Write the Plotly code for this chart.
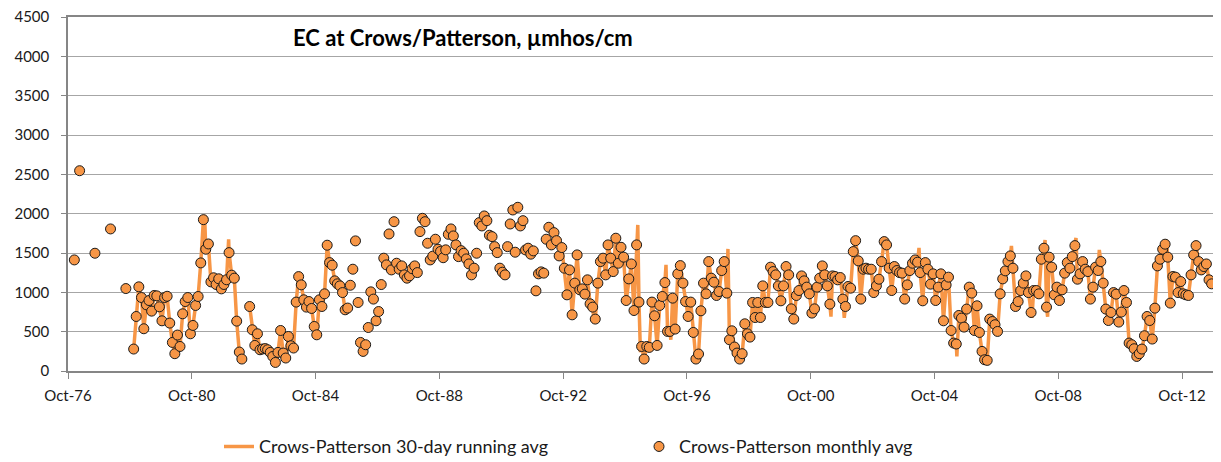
import pandas as pd
import plotly.graph_objects as go

# | data section |
# sparse grab samples before the monthly record starts
early_dates = ["1976-12-15", "1977-02-15", "1977-08-15", "1978-02-15", "1978-08-15"]
early_ec = [1412, 2546, 1497, 1806, 1048]

# monthly average EC, one value per month starting Nov 1978 (None = no data)
monthly_start = "1978-11-01"
monthly_ec = [
    279, 693,                                                           # 1978 Nov-Dec
    1070, 934, 537, 841, 896, 761, 960, 955, 816, 638, 934, 950,        # 1979
    609, 363, 220, 457, 312, 727, 883, 934, 473, 579, 833, 947,         # 1980
    1374, 1924, 1548, 1615, 1133, 1185, 1100, 1172, 1044, 1100, 1160, 1505,  # 1981
    1218, 1180, 634, 241, 152, None, None, 820, 524, 325, 473, 270,     # 1982
    280, 285, 270, 236, 185, 109, 236, 515, 228, 165, 439, 321,         # 1983
    292, 876, 1200, 1095, 905, 812, 883, 795, 566, 460, 905, 820,       # 1984
    981, 1599, 1378, 1345, 1146, 1108, 1082, 997, 778, 800, 1090, 1294,  # 1985
    1654, 871, 363, 249, 334, 553, 1006, 914, 638, 756, 1099, 1434,     # 1986
    1349, 1742, 1285, 1898, 1370, 1294, 1336, 1222, 1180, 1210, 1300, 1336,  # 1987
    1251, 1772, 1941, 1898, 1624, 1412, 1460, 1675, 1548, 1520, 1440, 1540,  # 1988
    1738, 1806, 1717, 1603, 1454, 1530, 1497, 1425, 1361, 1222, 1307, 1497,  # 1989
    1886, 1844, 1971, 1911, 1726, 1708, 1581, 1505, 1307, 1256, 1222, 1581,  # 1990
    1869, 2047, 1510, 2081, 1844, 1911, 1539, 1561, 1485, 1527, 1019, 1235,  # 1991
    1260, 1244, 1675, 1827, 1603, 1759, 1657, 1463, 1569, 1307, 968, 1285,   # 1992
    714, 1117, 1476, 1032, 1044, 977, 1159, 854, 812, 660, 1117, 1391,   # 1993
    1434, 1222, 1603, 1434, 1264, 1688, 1370, 1573, 1447, 896, 1171, 1361,  # 1994
    769, 1603, 876, 312, 152, 312, 300, 876, 702, 325, 833, 947,        # 1995
    1124, 503, 503, 926, 533, 1235, 1340, 1117, 883, 693, 876, 490,     # 1996
    152, 216, 765, 1117, 981, 1391, 1180, 1129, 960, 1010, 1277, 1391,  # 1997
    990, 397, 511, 305, 228, 152, 220, 600, 473, 431, 871, 680,         # 1998
    871, 680, 1082, 871, 871, 1320, 1264, 1222, 1082, 892, 1082, 1328,  # 1999
    1222, 790, 660, 960, 1023, 1209, 1146, 1066, 981, 736, 790, 1066,   # 2000
    1180, 1336, 1222, 1082, 850, 1209, 1201, 1159, 1188, 914, 820, 1074,  # 2001
    1053, 1518, 1657, 1400, 914, 1294, 1307, 1294, 1294, 997, 1082, 1167,  # 2002
    1391, 1645, 1603, 1307, 1023, 1328, 1277, 1251, 1244, 914, 1095, 1277,  # 2003
    1370, 1412, 1383, 1251, 892, 1378, 1294, 1104, 1235, 896, 1066, 1235,  # 2004
    638, 1095, 1193, 515, 355, 343, 706, 672, 558, 787, 1066, 990,      # 2005
    515, 829, 490, 249, 143, 135, 660, 629, 588, 503, 981, 1171,        # 2006
    1273, 1391, 1463, 1307, 820, 883, 1023, 1117, 1209, 997, 744, 1023,  # 2007
    1023, 981, 1421, 1561, 812, 1447, 1320, 968, 1066, 896, 1032, 1244,  # 2008
    1378, 1307, 1454, 1594, 1167, 1235, 1391, 1294, 1264, 914, 1066, 1320,  # 2009
    1277, 1391, 1117, 787, 642, 744, 997, 977, 622, 749, 1023, 871,     # 2010
    355, 334, 283, 185, 220, 279, 448, 693, 642, 406, 799, 1336,        # 2011
    1421, 1548, 1612, 1447, 863, 1201, 1193, 997, 1137, 981, 968, 960,  # 2012
    1222, 1476, 1594, 1391, 1285, 1328, 1361, 1159, 1108,               # 2013 Jan-Sep
]

# periods with no 30-day running average
run_avg_gaps = [("1985-10-01", "1992-08-31")]

# running-average peaks / dips that stand out from the monthly values
spike_dates = ["1981-03-01", "1981-12-10", "1993-10-01", "1995-03-01", "1995-04-01",
               "1996-01-28", "1996-03-25", "1998-01-28", "2001-05-28", "2001-11-01",
               "2004-04-01", "2005-06-22", "2007-03-28", "2007-11-25", "2008-04-28",
               "2008-05-28", "2009-04-28", "2010-01-28", "2012-04-01"]
spike_ec = [1985, 1675, 610, 1857, 240,
            1350, 397, 1552, 690, 676,
            1565, 185, 1590, 676, 1666,
            690, 1691, 1539, 1666]

orange = "#F79646"

# | variable section |
monthly_dates = pd.date_range(monthly_start, periods=len(monthly_ec), freq="MS") + pd.Timedelta(days=14)
monthly = pd.DataFrame({"date": monthly_dates, "ec": pd.Series(monthly_ec, dtype="float")})

line = monthly.copy()
for start, end in run_avg_gaps:
    in_gap = (line["date"] >= pd.Timestamp(start)) & (line["date"] <= pd.Timestamp(end))
    line.loc[in_gap, "ec"] = float("nan")
spikes = pd.DataFrame({"date": pd.to_datetime(spike_dates), "ec": pd.Series(spike_ec, dtype="float")})
line = pd.concat([line, spikes]).sort_values("date")

points_x = list(pd.to_datetime(early_dates)) + list(monthly["date"])
points_y = early_ec + list(monthly["ec"])

# | graph section |
fig = go.Figure()

fig.add_trace(
    go.Scatter(
        x=line["date"],
        y=line["ec"],
        name="Crows-Patterson 30-day running avg",
        mode="lines",
        line={"color": orange, "width": 3.5},
        connectgaps=False,
    )
)
fig.add_trace(
    go.Scatter(
        x=points_x,
        y=points_y,
        name="Crows-Patterson monthly avg",
        mode="markers",
        marker={"color": orange, "size": 10, "line": {"color": "#1a1a1a", "width": 1}},
    )
)

fig.add_annotation(
    text="<b>EC at Crows/Patterson, µmhos/cm</b>",
    xref="paper", yref="paper", x=(291 - 68) / 1145, y=0.941,
    xanchor="left", yanchor="middle", showarrow=False,
    font={"size": 22, "color": "#000000"},
)

# page body adds an 8px offset, so the figure is 8px smaller and margins shifted
fig.update_layout(
    width=1213,
    height=454,
    margin=dict(l=60, r=8, t=9, b=91, autoexpand=False),
    paper_bgcolor="white",
    plot_bgcolor="white",
    font=dict(family="Lato, 'Open Sans', sans-serif", size=15, color="#1a1a1a"),
    legend=dict(
        orientation="h", x=(219 - 68) / 1145, y=-0.214, xanchor="left", yanchor="middle",
        entrywidth=375, entrywidthmode="pixels", font=dict(size=18),
    ),
)
fig.update_xaxes(
    type="date",
    range=["1976-10-01", "2013-10-01"],
    tick0="1976-10-01",
    dtick="M48",
    tickformat="%b-%y",
    ticks="outside",
    ticklen=6,
    tickcolor="#868686",
    ticklabelstandoff=4,
    ticklabeloverflow="allow",
    showline=True,
    linecolor="#868686",
    linewidth=1.5,
    mirror=True,
    showgrid=False,
    zeroline=False,
    automargin=False,
)
fig.update_yaxes(
    range=[0, 4500],
    dtick=500,
    ticks="outside",
    ticklen=5,
    tickcolor="#868686",
    ticklabelstandoff=9,
    ticklabeloverflow="allow",
    showgrid=True,
    gridcolor="#a6a6a6",
    gridwidth=1.3,
    showline=True,
    linecolor="#868686",
    linewidth=1.5,
    mirror=True,
    zeroline=False,
    automargin=False,
)

fig.write_html("out.html")
